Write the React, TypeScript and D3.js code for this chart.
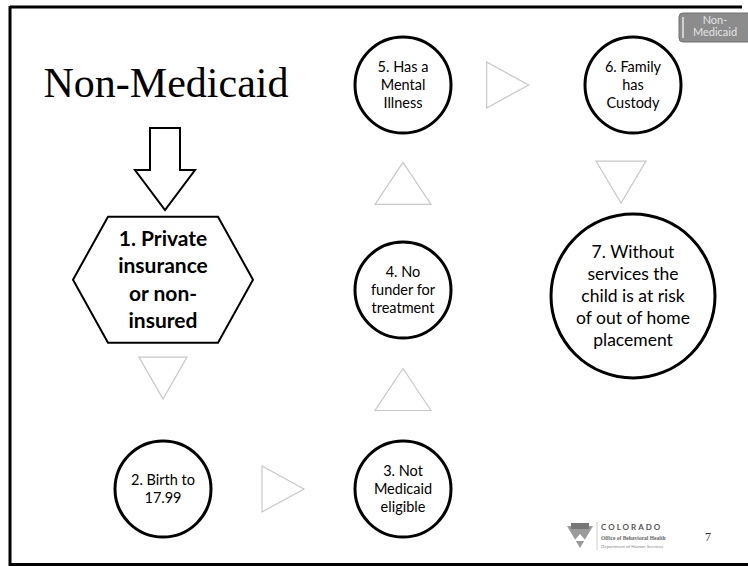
import React from "react";
import * as d3 from "d3";

// ---- data ----
const nodeIds = ["n1", "n2", "n3", "n4", "n5", "n6", "n7"];
const nodeLabels = [
  ["1. Private", "insurance", "or non-", "insured"],
  ["2. Birth to", "17.99"],
  ["3. Not", "Medicaid", "eligible"],
  ["4. No", "funder for", "treatment"],
  ["5. Has a", "Mental", "Illness"],
  ["6. Family", "has", "Custody"],
  ["7. Without", "services the", "child is at risk", "of out of home", "placement"],
];
const nodeCols = [0, 0, 1, 1, 1, 2, 2];
const nodeRows = [0.95, 2, 2, 1, 0, 0, 1.03];
const nodeShapes = ["hexagon", "circle", "circle", "circle", "circle", "circle", "bigcircle"];
const flowLinks = [
  ["n1", "n2"],
  ["n2", "n3"],
  ["n3", "n4"],
  ["n4", "n5"],
  ["n5", "n6"],
  ["n6", "n7"],
];
const titleText = "Non-Medicaid";
const badgeLines = ["Non-", "Medicaid"];
const pageNumber = "7";

// layout tweaks for connector triangles: position along link, sideways shift, half width
const linkT = [0.47, 0.5, 0.5, 0.52, 0.455, 0.46];
const linkShift = [0, 0, 0, 0, 0, 12];
const linkHalf = [24, 23, 28, 28, 23, 25];

const W = 748;
const H = 566;
const SANS = "Lato, 'Open Sans', sans-serif";

export default function App() {
  const x = d3.scaleLinear().domain([0, 1, 2]).range([163, 403, 633]);
  const y = d3.scaleLinear().domain([0, 1, 2]).range([85, 290, 489]);

  const nodes = nodeIds.map((id, i) => ({
    id,
    lines: nodeLabels[i],
    shape: nodeShapes[i],
    cx: x(nodeCols[i]),
    cy: y(nodeRows[i]),
  }));
  const byId = new Map(nodes.map((n) => [n.id, n]));

  const line = d3.line();

  const hexPath = (cx: number, cy: number) => {
    const hw = 90, tw = 55, hh = 63;
    return line([
      [cx - tw, cy - hh],
      [cx + tw, cy - hh],
      [cx + hw, cy],
      [cx + tw, cy + hh],
      [cx - tw, cy + hh],
      [cx - hw, cy],
    ] as [number, number][]) + "Z";
  };

  const triPath = (a: any, b: any, i: number) => {
    const t = linkT[i];
    const dx = b.cx - a.cx, dy = b.cy - a.cy;
    const len = Math.hypot(dx, dy);
    const ux = dx / len, uy = dy / len;
    const px = -uy, py = ux;
    const mx = a.cx + dx * t + px * linkShift[i];
    const my = a.cy + dy * t + py * linkShift[i];
    const h = 42, half = linkHalf[i];
    const bx = mx - ux * h / 2, by = my - uy * h / 2;
    const tx = mx + ux * h / 2, ty = my + uy * h / 2;
    return line([
      [bx + px * half, by + py * half],
      [tx, ty],
      [bx - px * half, by - py * half],
    ] as [number, number][]) + "Z";
  };

  // outline down arrow under the title
  const ax = 165;
  const arrowPts: [number, number][] = [
    [ax - 15, 128],
    [ax + 15, 128],
    [ax + 15, 170],
    [ax + 30, 170],
    [ax, 210],
    [ax - 30, 170],
    [ax - 15, 170],
  ];

  return (
    <svg width={W} height={H} style={{ position: "absolute", left: 0, top: 0, background: "#fff" }}>
      <rect x={0} y={0} width={W} height={H} fill="#fff" />
      {/* frame */}
      <line x1={10} y1={7} x2={742} y2={7} stroke="#000" strokeWidth={3} />
      <line x1={10} y1={6} x2={10} y2={566} stroke="#000" strokeWidth={3} />
      <line x1={9} y1={564.5} x2={748} y2={564.5} stroke="#000" strokeWidth={3} />

      {/* badge */}
      <rect x={679} y={13} width={80} height={29} rx={4} fill="#8c8c8c" stroke="#707070" strokeWidth={1} />
      <line x1={683} y1={17} x2={683} y2={38} stroke="#e6e6e6" strokeWidth={1.5} />
      {badgeLines.map((t, i) => (
        <text key={i} x={715} y={24 + i * 12} textAnchor="middle" fontFamily={SANS} fontSize={11} fill="#e4e4e4">
          {t}
        </text>
      ))}

      {/* title */}
      <text x={166} y={97} textAnchor="middle" fontFamily="'Liberation Serif', 'Times New Roman', serif" fontSize={42} fill="#000">
        {titleText}
      </text>
      <path d={line(arrowPts) + "Z"} fill="#fff" stroke="#000" strokeWidth={2} strokeLinejoin="miter" />

      {/* flow triangles */}
      {flowLinks.map(([s, t], i) => (
        <path key={i} d={triPath(byId.get(s), byId.get(t), i)} fill="#fff" stroke="#c8c8c8" strokeWidth={1.2} />
      ))}

      {/* nodes */}
      {nodes.map((n) => {
        const hex = n.shape === "hexagon";
        const bigc = n.shape === "bigcircle";
        const fs = hex ? 21 : bigc ? 17.5 : 14.5;
        const lh = hex ? 27.5 : bigc ? 22 : 18;
        const startY = n.cy - ((n.lines.length - 1) * lh) / 2;
        return (
          <g key={n.id}>
            {hex ? (
              <path d={hexPath(n.cx, n.cy)} fill="#fff" stroke="#000" strokeWidth={2} />
            ) : (
              <circle cx={n.cx} cy={n.cy} r={bigc ? 82 : 48} fill="#fff" stroke="#000" strokeWidth={3} />
            )}
            {n.lines.map((t, j) => (
              <text
                key={j}
                x={n.cx}
                y={startY + j * lh}
                dy="0.35em"
                textAnchor="middle"
                fontFamily={SANS}
                fontWeight={hex ? 700 : 400}
                fontSize={fs}
                fill="#000"
              >
                {t}
              </text>
            ))}
          </g>
        );
      })}

      {/* logo */}
      <g>
        <path d="M567,526 L593,526 L580,548 Z" fill="#9a9a9a" />
        <rect x={571} y={523} width={18} height={6} fill="#777" />
        <path d="M574,541 L580,534 L586,541 Z" fill="#fff" />
        <line x1={597} y1={522} x2={597} y2={550} stroke="#ccc" strokeWidth={1} />
        <text x={601} y={530} fontFamily={SANS} fontWeight={700} fontSize={8} letterSpacing={2} fill="#555">COLORADO</text>
        <text x={601} y={540} fontFamily="'Liberation Serif', serif" fontWeight={700} fontSize={5.5} fill="#666">Office of Behavioral Health</text>
        <text x={601} y={548} fontFamily={SANS} fontSize={4.5} fill="#888">Department of Human Services</text>
      </g>
      <text x={708} y={541} textAnchor="middle" fontFamily="'Liberation Serif', serif" fontSize={12} fill="#333">{pageNumber}</text>
    </svg>
  );
}
